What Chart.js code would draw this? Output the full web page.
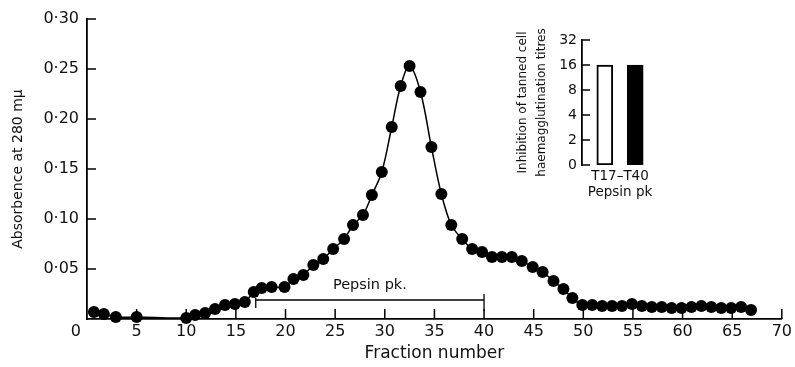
<!DOCTYPE html>
<html><head><meta charset="utf-8">
<script src="https://cdn.jsdelivr.net/npm/chart.js@4.4.0/dist/chart.umd.min.js"></script>
<style>
html,body{margin:0;padding:0;background:#fff;}
#wrap{position:relative;width:795px;height:367px;overflow:hidden;}
#main{position:absolute;left:0;top:0;width:795px;height:367px;}
#inset{position:absolute;left:480px;top:20px;width:200px;height:185px;}
</style></head><body>
<div id="wrap">
<canvas id="main" width="795" height="367"></canvas>
<canvas id="inset" width="200" height="185"></canvas>
</div>
<script>
// ---- data ----
const fractions = [0.7, 1.7, 2.9, 5.0, 10.0, 10.9, 11.9, 12.9, 13.9, 14.9, 15.9, 16.8, 17.6, 18.6, 19.9,
  20.8, 21.8, 22.8, 23.8, 24.8, 25.9, 26.8, 27.8, 28.7, 29.7, 30.7, 31.6, 32.5, 33.6, 34.7, 35.7, 36.7,
  37.8, 38.8, 39.8, 40.8, 41.8, 42.8, 43.8, 44.9, 45.9, 47.0, 48.0, 48.9, 49.9, 50.9, 51.9, 52.9, 53.9,
  54.9, 55.9, 56.9, 57.9, 58.9, 59.9, 60.9, 61.9, 62.9, 63.9, 64.9, 65.9, 66.9];
const absorbance = [0.007, 0.005, 0.002, 0.002, 0.001, 0.004, 0.006, 0.010, 0.014, 0.015, 0.017, 0.027, 0.031, 0.032, 0.032,
  0.040, 0.044, 0.054, 0.060, 0.070, 0.080, 0.094, 0.104, 0.124, 0.147, 0.192, 0.233, 0.253, 0.227, 0.172, 0.125, 0.094,
  0.080, 0.070, 0.067, 0.062, 0.062, 0.062, 0.058, 0.052, 0.047, 0.038, 0.030, 0.021, 0.014, 0.014, 0.013, 0.013, 0.013,
  0.015, 0.013, 0.012, 0.012, 0.011, 0.011, 0.012, 0.013, 0.012, 0.011, 0.011, 0.012, 0.009];
const xTickLabels = ['0', '5', '10', '15', '20', '25', '30', '35', '40', '45', '50', '55', '60', '65', '70'];
const yTickLabels = ['0', '0·05', '0·10', '0·15', '0·20', '0·25', '0·30'];
const pepsinRange = [17, 40];
const pepsinLevel = 0.019;
const pepsinLabel = 'Pepsin pk.';
const pepsinLabelAt = [28.5, 0.034];

const insetLabels = ['T17–T40', 'Pepsin pk'];
const titres = [16, 16];
const titreTickLabels = ['0', '2', '4', '8', '16', '32'];

Chart.defaults.font.family = "'DejaVu Sans', sans-serif";
Chart.defaults.color = '#111';

function line(ctx, x1, y1, x2, y2) { ctx.beginPath(); ctx.moveTo(x1, y1); ctx.lineTo(x2, y2); ctx.stroke(); }

const mainDecor = {
  id: 'mainDecor',
  afterDraw(chart) {
    const { ctx, scales: { x, y } } = chart;
    ctx.save();
    ctx.strokeStyle = '#000'; ctx.lineWidth = 1.5;
    x.ticks.forEach(t => { if (t.value === 0) return; const px = x.getPixelForValue(t.value); line(ctx, px, y.bottom, px, y.bottom - 10); });
    y.ticks.forEach(t => { if (Math.round(t.value / 0.05) === 0) return; const py = y.getPixelForValue(t.value); line(ctx, x.left, py, x.left + 9, py); });
    // Pepsin pk. bracket
    const x1 = x.getPixelForValue(pepsinRange[0]), x2 = x.getPixelForValue(pepsinRange[1]);
    const py = y.getPixelForValue(pepsinLevel);
    ctx.lineWidth = 1.3;
    line(ctx, x1, py, x2, py);
    line(ctx, x1, py - 2, x1, py + 8);
    line(ctx, x2, py - 6, x2, py + 11);
    ctx.fillStyle = '#111';
    ctx.font = "14.5px 'DejaVu Sans', sans-serif";
    ctx.textAlign = 'center'; ctx.textBaseline = 'middle';
    ctx.fillText(pepsinLabel, x.getPixelForValue(pepsinLabelAt[0]), y.getPixelForValue(pepsinLabelAt[1]));
    // corner "0"
    ctx.font = "16px 'DejaVu Sans', sans-serif";
    ctx.textAlign = 'right';
    ctx.fillText(xTickLabels[0], x.left - 6, x.top + 12.6);
    ctx.restore();
  }
};

new Chart(document.getElementById('main'), {
  type: 'line',
  data: {
    datasets: [{
      data: fractions.map((f, i) => ({ x: f, y: absorbance[i] })),
      borderColor: '#000', borderWidth: 1.5,
      pointRadius: 6, pointBackgroundColor: '#000', pointBorderWidth: 0,
      tension: 0.35, clip: false
    }]
  },
  options: {
    responsive: false, animation: false,
    layout: { padding: { top: 19, right: 11, bottom: 0, left: 0 } },
    plugins: { legend: { display: false }, tooltip: { enabled: false } },
    scales: {
      x: {
        type: 'linear', min: 0, max: 70,
        ticks: { stepSize: 5, padding: 3, font: { size: 16 }, color: '#111',
          callback: v => v === 0 ? '' : xTickLabels[Math.round(v / 5)] },
        grid: { display: false, drawTicks: false },
        border: { display: true, color: '#000', width: 1.8 },
        title: { display: true, text: 'Fraction number', font: { size: 17 }, color: '#111', padding: { top: 0, bottom: 3 } },
        afterFit(s) { s.height = 48; }
      },
      y: {
        min: 0, max: 0.30,
        ticks: { stepSize: 0.05, padding: 8, font: { size: 16 }, color: '#111',
          callback: v => { const i = Math.round(v / 0.05); return i === 0 ? '' : yTickLabels[i]; } },
        grid: { display: false, drawTicks: false },
        border: { display: true, color: '#000', width: 1.8 },
        title: { display: true, text: 'Absorbence at 280 mμ', font: { size: 14 }, color: '#111', padding: { top: 10 } },
        afterFit(s) { s.width = 87; }
      }
    }
  },
  plugins: [mainDecor]
});

const insetDecor = {
  id: 'insetDecor',
  afterDraw(chart) {
    const { ctx, scales: { x, y } } = chart;
    ctx.save();
    ctx.strokeStyle = '#000'; ctx.lineWidth = 1.5;
    y.ticks.forEach(t => { const py = y.getPixelForValue(t.value); line(ctx, x.left, py, x.left + 8, py); });
    ctx.restore();
  }
};

new Chart(document.getElementById('inset'), {
  type: 'bar',
  data: {
    datasets: [{
      data: titres.map((v, i) => ({ x: i + 1, y: titreTickLabels.indexOf(String(v)) })),
      backgroundColor: ['#fff', '#000'], borderColor: '#000', borderWidth: 2,
      borderSkipped: false, barThickness: 16
    }]
  },
  options: {
    responsive: false, animation: false,
    layout: { padding: { top: 20, right: 22, bottom: 0, left: 0 } },
    plugins: { legend: { display: false }, tooltip: { enabled: false } },
    scales: {
      x: {
        type: 'linear', min: 0.25, max: 2.75, offset: false,
        ticks: { display: false },
        grid: { display: false, drawTicks: false, offset: false },
        border: { display: false },
        title: { display: true, text: insetLabels, font: { size: 13.5, lineHeight: 1.2 }, color: '#111', padding: { top: 0, bottom: 4 } },
        afterFit(s) { s.height = 40; }
      },
      y: {
        min: 0, max: 5,
        ticks: { stepSize: 1, padding: 5, font: { size: 14 }, color: '#111', callback: v => titreTickLabels[Math.round(v)] },
        grid: { display: false, drawTicks: false },
        border: { display: true, color: '#000', width: 1.8 },
        title: { display: true, text: ['Inhibition of tanned cell', 'haemagglutination titres'], font: { size: 12, lineHeight: 1.58 }, color: '#111', padding: { top: 33.5 } },
        afterFit(s) { s.width = 102; }
      }
    }
  },
  plugins: [insetDecor]
});
</script>
</body></html>
